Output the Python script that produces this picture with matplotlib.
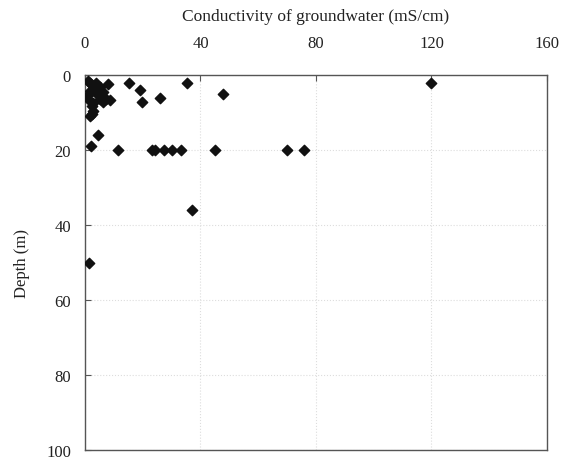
import matplotlib.pyplot as plt

plt.rcParams['font.family'] = ['Liberation Serif', 'DejaVu Serif']

# conductivity (mS/cm) and depth (m) of sampled wells
conductivity = [1.7, 8.1, 15.3, 18.9, 35.3, 47.7, 19.9, 26.0, 120.0,
                1.0, 2.4, 3.8, 5.2, 3.5, 1.7, 4.2, 6.3, 7.3, 1.0, 1.0, 5.2, 2.8,
                8.7, 6.4, 2.3, 2.9, 2.5, 1.7, 4.4, 2.0,
                11.4, 23.2, 24.1, 27.2, 30.3, 33.2, 45.1, 70.0, 76.0,
                37.0, 1.5]
depth = [2.1, 2.4, 2.2, 3.9, 2.2, 5.2, 7.3, 6.1, 2.2,
         1.6, 2.7, 2.1, 3.2, 3.7, 4.3, 5.1, 4.5, 6.4, 5.3, 6.4, 6.4, 7.5,
         6.8, 7.1, 8.2, 9.5, 10.4, 11.0, 16.0, 19.0,
         20.0, 20.0, 20.0, 20.0, 20.0, 20.0, 20.0, 20.0, 20.0,
         36.0, 50.2]

x_ticks = [0, 40, 80, 120, 160]
y_ticks = [0, 20, 40, 60, 80, 100]

fig = plt.figure(figsize=(5.61, 4.6), dpi=100)
ax = fig.add_axes([0.1515, 0.0196, 0.8235, 0.8152])

ax.scatter(conductivity, depth, marker='D', s=28, color='#111111', zorder=3)

ax.set_xlim(0, 160)
ax.set_ylim(100, 0)
ax.set_xticks(x_ticks)
ax.set_yticks(y_ticks)
ax.xaxis.tick_top()
ax.xaxis.set_label_position('top')
ax.tick_params(direction='in', length=4, colors='#555555', labelcolor='#222222',
               labelsize=12)
ax.tick_params(axis='x', pad=17)
ax.tick_params(axis='y', pad=10)
ax.grid(True, linestyle=':', linewidth=0.8, color='#dddddd')
for s in ax.spines.values():
    s.set_color('#555555')
    s.set_linewidth(1.0)

ax.set_xlabel('Conductivity of groundwater (mS/cm)', fontsize=12.5, color='#222222', labelpad=11)
ax.set_ylabel('Depth (m)', fontsize=12, color='#222222', labelpad=12)

fig.savefig('out.png', dpi=100)
